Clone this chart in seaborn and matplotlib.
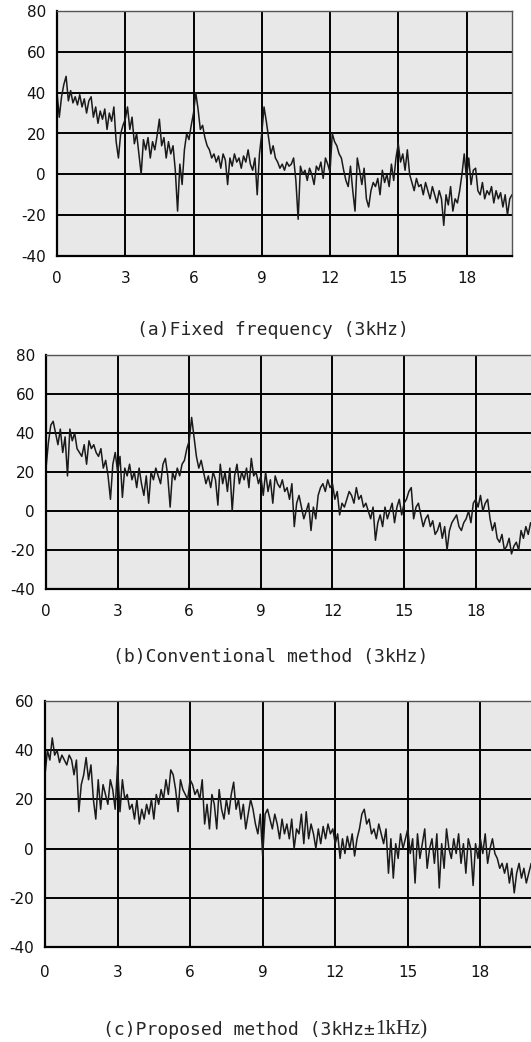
import numpy as np
import pandas as pd
import seaborn as sns
import matplotlib.pyplot as plt

# spectra, one value every 0.1 kHz
freq_a = np.round(np.arange(0, 20.05, 0.1), 1)
freq_bc = np.round(np.arange(0, 20.35, 0.1), 1)

level_a = [
    40, 28, 38, 44, 48, 36, 41, 35, 38, 34,
    39, 33, 37, 30, 36, 38, 28, 33, 25, 31,
    27, 32, 22, 30, 26, 33, 16, 8, 20, 24,
    27, 33, 22, 28, 15, 20, 10, 0, 17, 12,
    18, 8, 16, 12, 19, 27, 14, 18, 8, 16,
    10, 14, 2, -18, 5, -5, 12, 20, 17, 24,
    30, 40, 32, 22, 24, 18, 14, 12, 8, 10,
    6, 9, 3, 10, 7, -5, 8, 4, 10, 6,
    8, 3, 9, 6, 12, 5, 2, 8, -10, 10,
    20, 33, 26, 18, 10, 14, 8, 6, 3, 5,
    2, 6, 4, 5, 8, -3, -22, 4, 0, 2,
    -3, 3, 0, -5, 4, 2, 6, -2, 8, 5,
    1, 20, 16, 14, 10, 8, 2, -3, -6, 4,
    -8, -18, 8, 2, -5, 3, -12, -16, -8, -4,
    -6, -2, -10, 2, -4, 0, -6, 5, -3, 8,
    15, 6, 10, 2, 12, 0, -4, -8, -2, -6,
    -5, -10, -4, -8, -12, -6, -10, -14, -8, -12,
    -25, -10, -15, -6, -18, -12, -14, -8, 0, 10,
    -2, 8, -5, 2, 3, -8, -10, -4, -12, -8,
    -10, -6, -14, -8, -12, -9, -16, -10, -20, -12,
    -10,
]

level_b = [
    22, 35, 44, 46, 40, 34, 42, 30, 38, 18,
    42, 36, 40, 32, 30, 28, 34, 24, 36, 32,
    34, 30, 28, 32, 22, 26, 18, 6, 24, 30,
    20, 28, 7, 22, 18, 24, 16, 20, 12, 22,
    14, 8, 18, 4, 20, 16, 22, 18, 14, 24,
    27, 18, 2, 20, 16, 22, 18, 24, 26, 32,
    36, 48, 38, 28, 22, 26, 20, 14, 18, 12,
    20, 16, 3, 24, 14, 20, 10, 22, 0, 18,
    24, 14, 20, 16, 22, 12, 27, 18, 20, 14,
    18, 8, 20, 10, 16, 4, 18, 14, 12, 16,
    10, 12, 6, 14, -8, 4, 8, 2, -4, 0,
    4, -10, 2, -4, 8, 12, 14, 10, 16, 12,
    14, 6, 10, -2, 4, 2, 6, 10, 8, 4,
    12, 6, 8, 2, 4, 0, -4, 2, -15, -6,
    -2, -8, 2, -4, 0, 4, -6, 2, 6, -2,
    4, 6, 10, 12, -4, 2, 4, -2, -8, -4,
    -2, -8, -5, -12, -10, -6, -14, -8, -20, -10,
    -6, -4, -2, -8, -10, -6, -4, 0, -6, 4,
    6, 2, 8, 0, 4, 6, -4, -10, -6, -14,
    -16, -12, -20, -18, -14, -22, -18, -16, -20, -10,
    -14, -8, -12, -6,
]

level_c = [
    30, 40, 36, 45, 38, 40, 35, 38, 36, 34,
    38, 36, 30, 36, 15, 26, 30, 37, 28, 34,
    20, 12, 28, 16, 26, 22, 18, 28, 24, 16,
    34, 15, 28, 20, 22, 16, 18, 12, 20, 10,
    16, 12, 18, 14, 20, 12, 22, 18, 24, 20,
    28, 22, 32, 30, 24, 15, 28, 24, 22, 20,
    28, 26, 22, 24, 20, 28, 10, 18, 8, 22,
    18, 8, 24, 16, 12, 20, 14, 22, 27, 16,
    20, 12, 18, 8, 14, 20, 16, 10, 6, 14,
    -3, 14, 16, 12, 8, 14, 10, 4, 12, 6,
    10, 4, 12, 0, 8, 6, 14, 2, 15, 4,
    10, 6, 0, 8, 2, 9, 4, 10, 6, 8,
    2, 6, -4, 4, -2, 5, 0, 6, -3, 4,
    8, 14, 16, 10, 12, 6, 8, 4, 10, 6,
    2, 8, -10, 4, -12, 2, -4, 6, 0, 4,
    8, -2, 4, -14, 6, -4, 2, 8, -8, 0,
    4, -6, 6, -16, 2, -8, 8, 0, -4, 4,
    -2, 6, -6, 2, -10, 4, 0, -15, 2, -4,
    4, -2, 6, -6, 0, 4, -2, -4, -8, -6,
    -10, -6, -14, -8, -18, -10, -6, -12, -8, -14,
    -10, -6, -12, -8,
]

x_ticks = [0, 3, 6, 9, 12, 15, 18]
captions = ["(a)Fixed frequency (3kHz)", "(b)Conventional method (3kHz)",
            "(c)Proposed method (3kHz\u00b1"]
caption_tail = "1kHz)"

sns.set_style("white")
plt.rcParams['font.family'] = ['DejaVu Sans']
plt.rcParams['axes.unicode_minus'] = False

W, H = 531, 1042
fig = plt.figure(figsize=(W / 100, H / 100), dpi=100)

def px_axes(left, right, top, bottom):
    return fig.add_axes([left / W, 1 - bottom / H, (right - left) / W, (bottom - top) / H])

panels = [
    # box = (left, right, top, bottom) in px
    dict(box=(57, 512, 11, 256), xmax=20.0, ylim=(-40, 80), x=freq_a, y=level_a, pad=11),
    dict(box=(46, 533, 355, 589), xmax=20.4, ylim=(-40, 80), x=freq_bc, y=level_b, pad=11),
    dict(box=(45, 536, 701, 947), xmax=20.3, ylim=(-40, 60), x=freq_bc, y=level_c, pad=13),
]

for p in panels:
    ax = px_axes(*p['box'])
    df = pd.DataFrame({'kHz': p['x'], 'dB': p['y']})
    sns.lineplot(data=df, x='kHz', y='dB', ax=ax, color='#1a1a1a', lw=1.1)
    ax.set_facecolor('#e8e8e8')
    ax.set_xlim(0, p['xmax'])
    ax.set_ylim(*p['ylim'])
    ax.set_xticks(x_ticks)
    ax.set_yticks(np.arange(p['ylim'][0], p['ylim'][1] + 1, 20))
    ax.grid(True, color='black', lw=1.4)
    ax.set_axisbelow(True)
    ax.set_xlabel('')
    ax.set_ylabel('')
    ax.tick_params(axis='both', length=0, labelsize=11, colors='#111111')
    ax.tick_params(axis='y', pad=8)
    ax.tick_params(axis='x', pad=p['pad'])
    for side in ['left', 'bottom']:
        ax.spines[side].set_color('black')
        ax.spines[side].set_linewidth(1.6)
    for side in ['top', 'right']:
        ax.spines[side].set_color('#555555')
        ax.spines[side].set_linewidth(1.0)

mono = ['DejaVu Sans Mono']
fig.text(273 / W, 1 - 330 / H, captions[0], ha='center', va='center', fontsize=13, family=mono)
fig.text(271 / W, 1 - 657 / H, captions[1], ha='center', va='center', fontsize=13, family=mono)

# caption (c): the tail is set in a serif face, as in the original
renderer = fig.canvas.get_renderer()
t1 = fig.text(0, 1 - 1030 / H, captions[2], ha='left', va='center', fontsize=13, family=mono)
t2 = fig.text(0, 1 - 1030 / H, caption_tail, ha='left', va='center', fontsize=15,
              family=['Liberation Serif'])
w1 = t1.get_window_extent(renderer).width
w2 = t2.get_window_extent(renderer).width
start = 265 - (w1 + w2) / 2
t1.set_x(start / W)
t2.set_x((start + w1) / W)

fig.savefig('out.png', dpi=100, facecolor='white')
